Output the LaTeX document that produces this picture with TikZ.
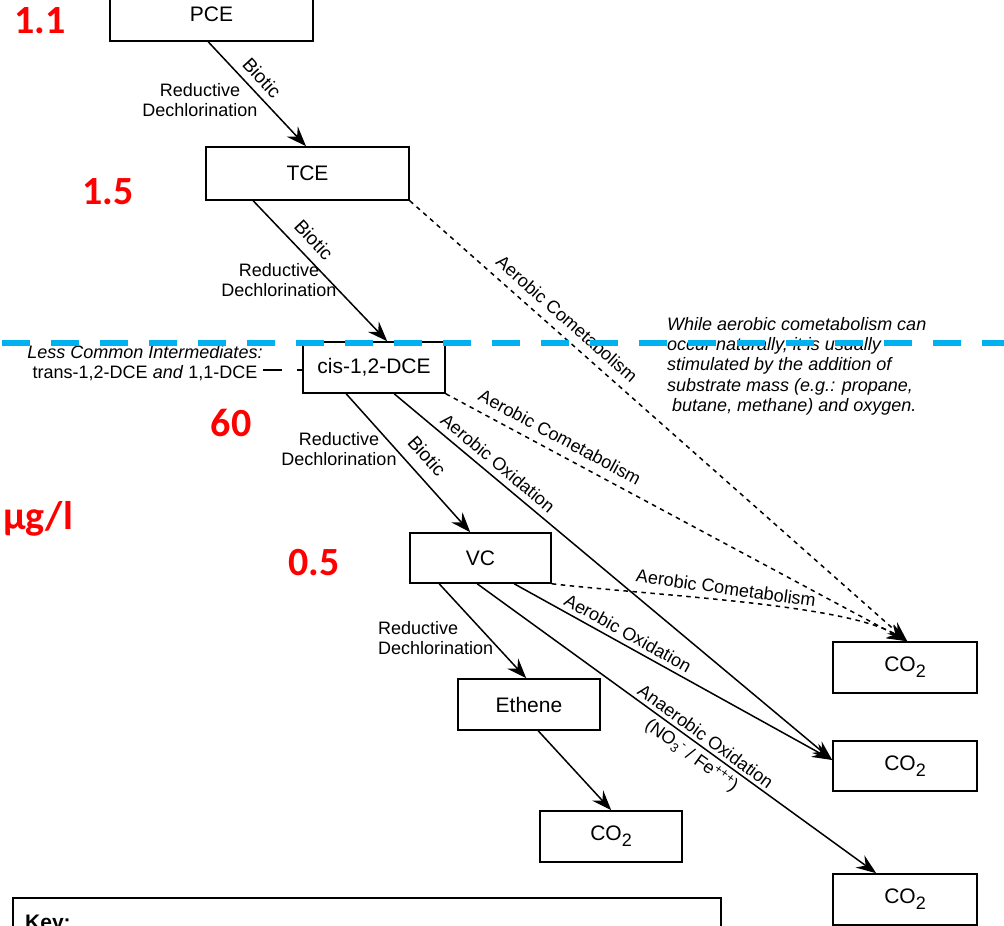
\documentclass[tikz,border=0pt]{standalone}
\usepackage{fontspec}
\setmainfont{Liberation Sans}
\newfontfamily\redfont{Carlito}
\usetikzlibrary{arrows.meta}
\definecolor{cyanline}{RGB}{0,176,240}
\definecolor{redtxt}{RGB}{255,0,0}
\newcommand\cotwo{CO\raisebox{-0.3em}{\fontsize{18}{18}\selectfont 2}}
\begin{document}
\begin{tikzpicture}[x=1pt,y=-1pt,
  box/.style={draw, line width=1.6pt, inner sep=0pt, font=\fontsize{21}{24}\selectfont},
  lbl/.style={font=\fontsize{18}{20}\selectfont, inner sep=0pt, align=center},
  arr/.style={line width=1.5pt, -{Stealth[length=20pt,width=15pt,inset=7pt]}},
  dotarr/.style={arr, dash pattern=on 4.5pt off 4.5pt},
  num/.style={font=\redfont\bfseries\fontsize{40}{44}\selectfont, text=redtxt, inner sep=0pt},
]
\clip (0,0) rectangle (1004,926);
\fill[white] (0,0) rectangle (1004,926);

% boxes
\node[box, minimum width=203pt, minimum height=53pt] (pce) at (211.5,14.5) {PCE};
\node[box, minimum width=203pt, minimum height=53pt] (tce) at (307.5,173.5) {TCE};
\node[box, minimum width=142pt, minimum height=51pt] (cis) at (374,367.5) {cis-1,2-DCE};
\node[box, minimum width=141pt, minimum height=50pt] (vc) at (480.5,558) {VC};
\node[box, minimum width=142pt, minimum height=51pt] (eth) at (529,704.5) {Ethene};
\node[box, minimum width=142pt, minimum height=51pt] (cm) at (611,836.5) {\cotwo};
\node[box, minimum width=144pt, minimum height=51pt] (ca) at (905,667.5) {\cotwo};
\node[box, minimum width=144pt, minimum height=50pt] (cb) at (905,766) {\cotwo};
\node[box, minimum width=144pt, minimum height=51pt] (cc) at (905,899.5) {\cotwo};
\node[draw, line width=1.6pt, minimum width=708pt, minimum height=80pt, anchor=north west] (key) at (12,897) {};
\node[font=\bfseries\fontsize{21}{24}\selectfont, anchor=base west, inner sep=0pt] (keytxt) at (25,929) {Key:};

% connectors
\draw[arr] ([xshift=99pt]pce.south west) -- ([xshift=-1.5pt]tce.north);
\draw[arr] ([xshift=48pt]tce.south west) -- ([xshift=85pt]cis.north west);
\draw[arr] ([xshift=44pt]cis.south west) -- ([xshift=61pt]vc.north west);
\draw[arr] ([xshift=30pt]vc.south west) -- ([xshift=69pt]eth.north west);
\draw[arr] ([xshift=81pt]eth.south west) -- ([xshift=72pt]cm.north west);
\draw[dotarr] (tce.south east) -- ([xshift=75pt]ca.north west);
\draw[dotarr] (cis.south east) -- ([xshift=75pt]ca.north west);
\draw[dotarr] (vc.south east) .. controls (660,596) and (845,604) .. ([xshift=75pt]ca.north west);
\draw[arr] ([xshift=92pt]cis.south west) -- ([yshift=6pt]cb.west);
\draw[arr] ([xshift=105pt]vc.south west) -- ([yshift=6pt]cb.west);
\draw[arr] ([xshift=68pt]vc.south west) -- ([xshift=44pt]cc.north west);

% less common intermediates
\node[lbl] (lc) at (145,363) {\textit{Less Common Intermediates:}\\trans-1,2-DCE \textit{and} 1,1-DCE};
\coordinate (lcend) at (263,370);
\draw[line width=1.4pt, dash pattern=on 19pt off 15pt] (lcend) -- ([yshift=-2.5pt]cis.west);

% labels
\node[lbl, rotate=-47.5, font=\fontsize{19}{21}\selectfont] (b1) at (262,78) {Biotic};
\node[lbl] (rd1) at (200,100) {Reductive\\Dechlorination};
\node[lbl, rotate=-47, font=\fontsize{19}{21}\selectfont] (b2) at (314,240) {Biotic};
\node[lbl] (rd2) at (279,280) {Reductive\\Dechlorination};
\node[lbl, rotate=-48.5, font=\fontsize{19}{21}\selectfont] (b3) at (427,456) {Biotic};
\node[lbl] (rd3) at (339,449) {Reductive\\Dechlorination};
\node[lbl, align=left, anchor=west] (rd4) at (378,638) {Reductive\\Dechlorination};
\node[lbl, rotate=-41.5] (ac1) at (567,319) {Aerobic Cometabolism};
\node[lbl, rotate=-28.3] (ac2) at (560,437) {Aerobic Cometabolism};
\node[lbl, rotate=-40] (ao1) at (498,463) {Aerobic Oxidation};
\node[lbl, rotate=-8] (ac3) at (726,588) {Aerobic Cometabolism};
\node[lbl, rotate=-29] (ao2) at (628,633) {Aerobic Oxidation};
\node[lbl, rotate=-36, font=\fontsize{18}{23}\selectfont] (ano) at (698,747) {Anaerobic Oxidation\\(NO\textsubscript{3}\textsuperscript{-} / Fe\textsuperscript{+++})};
\node[lbl, align=left, anchor=north west, font=\itshape\fontsize{18}{20.3}\selectfont] (note) at (667,317) {While aerobic cometabolism can\\occur naturally, it is usually\\stimulated by the addition of\\substrate mass (e.g.: propane,\\\ butane, methane) and oxygen.};

% red annotations
\node[num] (n1) at (40,21) {1.1};
\node[num] (n2) at (108,192) {1.5};
\node[num] (n3) at (231,423) {60};
\node[num] (n4) at (314,563) {0.5};
\node[num, anchor=base west] (unit) at (3,529) {µg/l};

% cyan dashed line
\draw[cyanline, line width=6pt, dash pattern=on 28pt off 21pt] (2,343) -- (1004,343);
\end{tikzpicture}
\end{document}
